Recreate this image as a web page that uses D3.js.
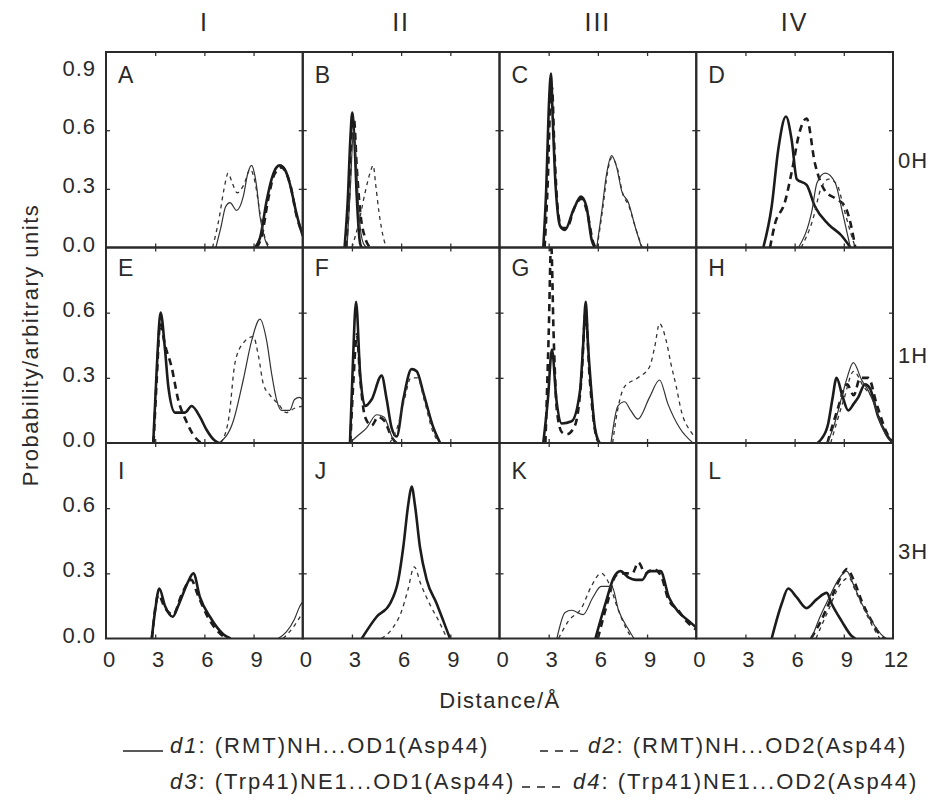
<!DOCTYPE html>
<html><head><meta charset="utf-8">
<script src="https://cdn.jsdelivr.net/npm/d3@7/dist/d3.min.js"></script>
<style>
html,body{margin:0;padding:0;background:#fff;}
svg text{font-family:"Liberation Sans",Arial,Helvetica,sans-serif;fill:#2a2a2a;}
</style></head>
<body><svg id="chart" width="952" height="802"></svg>
<script>
// ---------- data ----------
const columnLabels = ["I","II","III","IV"];
const rowLabels = ["0H","1H","3H"];
const panelLetters = ["A","B","C","D","E","F","G","H","I","J","K","L"];
const xTickValues = [0,3,6,9];
const xTickValuesLast = [0,3,6,9,12];
const yTicksRow1 = [0.0,0.3,0.6,0.9];
const yTicksOther = [0.0,0.3,0.6];
const seriesNames = ["d1","d2","d3","d4"];
const legendTexts = ["(RMT)NH...OD1(Asp44)","(RMT)NH...OD2(Asp44)","(Trp41)NE1...OD1(Asp44)","(Trp41)NE1...OD2(Asp44)"];

const A_d1=[[9.1,0],[9.4,0.05],[9.8,0.24],[10.1,0.35],[10.4,0.41],[10.6,0.42],[10.9,0.40],[11.2,0.33],[11.6,0.18],[11.85,0.10],[12,0.06]];
const A_d2=[[9.2,0],[9.5,0.06],[9.9,0.25],[10.2,0.36],[10.5,0.40],[10.7,0.41],[11.0,0.38],[11.3,0.30],[11.6,0.17],[12,0.07]];
const A_d3=[[6.7,0],[7.0,0.1],[7.3,0.21],[7.56,0.23],[7.97,0.19],[8.37,0.26],[8.65,0.38],[8.88,0.42],[9.05,0.38],[9.19,0.31],[9.39,0.16],[9.7,0.04],[9.9,0]];
const A_d4=[[6.5,0],[6.9,0.15],[7.2,0.3],[7.45,0.38],[7.7,0.33],[8.0,0.28],[8.4,0.32],[8.8,0.40],[9.1,0.33],[9.4,0.17],[9.7,0.05],[10,0]];

const B_d1=[[2.55,0],[2.75,0.25],[2.9,0.55],[3.02,0.69],[3.15,0.55],[3.3,0.25],[3.5,0.02],[3.6,0]];
const B_d2=[[2.65,0],[2.85,0.3],[3.0,0.6],[3.12,0.66],[3.3,0.4],[3.55,0.15],[3.8,0.05],[4.1,0]];
const B_d3=[[2.7,0],[2.9,0.3],[3.1,0.6],[3.25,0.45],[3.45,0.15],[3.7,0.02],[3.9,0]];
const B_d4=[[3.0,0],[3.4,0.12],[3.8,0.28],[4.1,0.38],[4.3,0.42],[4.45,0.32],[4.65,0.18],[4.95,0.04],[5.1,0]];

const C_d1=[[2.67,0],[2.85,0.3],[3.0,0.7],[3.14,0.89],[3.25,0.65],[3.38,0.38],[3.55,0.18],[3.7,0.11],[4.0,0.09],[4.5,0.19],[4.97,0.26],[5.3,0.21],[5.62,0.04],[5.8,0]];
const C_d2=[[2.75,0],[2.95,0.35],[3.1,0.75],[3.2,0.82],[3.35,0.5],[3.55,0.2],[3.8,0.1],[4.1,0.1],[4.6,0.21],[5.0,0.25],[5.35,0.18],[5.7,0.03],[5.85,0]];
const C_d3=[[5.93,0],[6.23,0.18],[6.54,0.38],[6.84,0.47],[7.15,0.41],[7.45,0.29],[7.86,0.23],[8.26,0.11],[8.67,0]];
const C_d4=[[5.95,0],[6.3,0.2],[6.6,0.39],[6.85,0.46],[7.2,0.4],[7.5,0.28],[7.9,0.21],[8.3,0.1],[8.7,0]];

const D_d1=[[4.09,0],[4.6,0.21],[5.0,0.5],[5.47,0.67],[5.82,0.55],[6.13,0.35],[6.73,0.32],[7.24,0.21],[8.05,0.12],[8.87,0.06],[9.4,0]];
const D_d2=[[4.5,0],[4.8,0.12],[5.4,0.23],[5.9,0.42],[6.24,0.57],[6.73,0.66],[7.24,0.43],[7.85,0.29],[8.5,0.25],[9.07,0.21],[9.5,0.09],[9.7,0]];
const D_d3=[[6.24,0],[7.06,0.19],[7.36,0.33],[7.87,0.38],[8.48,0.33],[8.89,0.19],[9.4,0]];
const D_d4=[[6.4,0],[7.1,0.14],[7.6,0.3],[8.1,0.35],[8.6,0.32],[9.0,0.2],[9.4,0.08],[9.7,0]];

const E_d1=[[2.88,0],[3.1,0.35],[3.33,0.60],[3.6,0.43],[3.8,0.26],[4.21,0.14],[4.82,0.14],[5.22,0.17],[5.73,0.12],[6.14,0.06],[6.65,0.01],[6.9,0]];
const E_d2=[[2.9,0],[3.1,0.3],[3.3,0.55],[3.6,0.45],[4.0,0.35],[4.4,0.2],[4.9,0.1],[5.3,0.04],[5.8,0]];
const E_d3=[[6.9,0],[7.76,0.1],[8.37,0.29],[8.88,0.47],[9.39,0.57],[9.8,0.47],[10.1,0.32],[10.4,0.2],[10.7,0.15],[11.2,0.15],[11.5,0.2],[11.8,0.21],[12,0.2]];
const E_d4=[[7.0,0],[7.5,0.12],[7.87,0.37],[8.37,0.46],[8.98,0.49],[9.3,0.4],[9.6,0.27],[10.0,0.22],[10.5,0.18],[11,0.14],[11.5,0.16],[12,0.17]];

const F_d1=[[2.88,0],[3.05,0.35],[3.25,0.65],[3.5,0.32],[3.8,0.17],[4.2,0.2],[4.81,0.31],[5.12,0.2],[5.42,0.07],[5.73,0.03],[6.13,0.2],[6.64,0.34],[6.95,0.33],[7.36,0.23],[7.97,0.07],[8.38,0]];
const F_d2=[[2.9,0],[3.1,0.3],[3.3,0.5],[3.5,0.3],[3.8,0.12],[4.2,0.08],[4.6,0.12],[5.0,0.1],[5.4,0.03],[5.7,0]];
const F_d3=[[2.85,0],[3.3,0.03],[3.9,0.07],[4.5,0.13],[4.95,0.12],[5.5,0.02],[5.8,0]];
const F_d4=[[5.3,0],[5.8,0.08],[6.2,0.2],[6.6,0.3],[7.0,0.3],[7.4,0.2],[7.9,0.06],[8.3,0]];

const G_d1=[[2.67,0],[2.95,0.2],[3.2,0.43],[3.47,0.2],[3.8,0.09],[4.4,0.1],[4.91,0.24],[5.1,0.45],[5.26,0.65],[5.4,0.45],[5.52,0.32],[5.82,0.07],[6.1,0]];
const G_d2=[[2.8,0],[3.0,0.5],[3.15,0.92],[3.3,0.5],[3.5,0.15],[3.8,0.05],[4.1,0.04],[4.6,0.08],[5.0,0.3],[5.25,0.6],[5.5,0.3],[5.9,0.03],[6.1,0]];
const G_d3=[[6.8,0],[7.22,0.17],[7.63,0.19],[8.0,0.15],[8.44,0.11],[9.15,0.21],[9.76,0.29],[10.27,0.18],[10.98,0.07],[11.8,0]];
const G_d4=[[6.9,0],[7.2,0.15],[7.63,0.26],[8.44,0.3],[9.15,0.35],[9.46,0.44],[9.76,0.55],[10.17,0.47],[10.47,0.36],[10.78,0.26],[11.08,0.15],[11.69,0.05],[12,0.02]];

const H_d1=[[7.4,0],[7.65,0.02],[8.05,0.09],[8.3,0.2],[8.56,0.3],[8.9,0.22],[9.27,0.15],[9.6,0.18],[9.88,0.21],[10.29,0.27],[10.6,0.25],[11.1,0.12],[11.6,0.04],[12,0]];
const H_d2=[[8.0,0],[8.6,0.15],[9.2,0.27],[9.6,0.22],[10.0,0.3],[10.5,0.3],[11.0,0.18],[11.6,0.05],[12,0]];
const H_d3=[[8.0,0],[8.4,0.08],[8.87,0.21],[9.2,0.3],[9.58,0.37],[10.09,0.29],[10.5,0.24],[10.9,0.17],[11.3,0.08],[11.7,0.02],[12,0]];
const H_d4=[[8.2,0],[9.0,0.2],[9.6,0.33],[10.2,0.26],[10.8,0.2],[11.5,0.05],[12,0]];

const I_d1=[[2.79,0],[3.0,0.13],[3.25,0.23],[3.6,0.15],[4.07,0.10],[4.4,0.15],[4.72,0.21],[5.0,0.26],[5.33,0.30],[5.73,0.19],[6.34,0.10],[7.15,0.02],[7.6,0]];
const I_d2=[[2.8,0],[3.2,0.2],[3.6,0.14],[4.1,0.11],[4.6,0.2],[5.2,0.27],[5.6,0.2],[6.2,0.1],[7.0,0.02],[7.4,0]];
const I_d3=[[10.5,0],[11.0,0.03],[11.5,0.09],[11.83,0.15],[12,0.17]];
const I_d4=[[10.8,0],[11.4,0.05],[12,0.12]];

const J_d1=[[3.6,0],[4.51,0.1],[5.32,0.16],[5.83,0.27],[6.13,0.42],[6.44,0.62],[6.64,0.70],[6.85,0.61],[7.15,0.42],[7.56,0.27],[8.17,0.16],[8.58,0.08],[8.98,0]];
const J_d2=[];
const J_d3=[];
const J_d4=[[4.8,0],[5.5,0.05],[6.0,0.12],[6.4,0.22],[6.8,0.33],[7.2,0.25],[7.8,0.15],[8.3,0.08],[8.8,0]];

const K_d1=[[5.85,0],[6.46,0.16],[6.97,0.28],[7.38,0.31],[7.88,0.28],[8.3,0.27],[8.7,0.27],[9.11,0.31],[9.5,0.31],[9.82,0.31],[10.33,0.19],[10.94,0.12],[11.56,0.08],[12,0.05]];
const K_d2=[[6.0,0],[6.6,0.17],[7.1,0.29],[7.6,0.3],[8.1,0.3],[8.47,0.35],[8.9,0.3],[9.4,0.32],[9.9,0.28],[10.3,0.18],[10.9,0.13],[11.4,0.08],[12,0.04]];
const K_d3=[[3.5,0],[4.0,0.12],[4.4,0.13],[5.1,0.11],[5.7,0.19],[6.2,0.24],[6.85,0.24],[7.26,0.13],[7.88,0.04],[8.2,0]];
const K_d4=[[3.6,0],[4.2,0.08],[5.0,0.14],[5.6,0.24],[6.2,0.30],[6.7,0.25],[7.2,0.14],[7.7,0.05],[8.1,0]];

const L_d1=[[4.6,0],[5.21,0.16],[5.61,0.23],[6.12,0.19],[6.73,0.14],[7.34,0.18],[7.96,0.21],[8.26,0.16],[8.87,0.08],[9.5,0.01],[9.7,0]];
const L_d2=[[7.0,0],[7.6,0.08],[8.2,0.18],[8.8,0.28],[9.2,0.32],[9.6,0.27],[10.1,0.17],[10.7,0.08],[11.3,0.01],[11.5,0]];
const L_d3=[[7.04,0],[7.55,0.10],[8.05,0.18],[8.66,0.27],[9.17,0.31],[9.58,0.25],[10.1,0.16],[10.7,0.08],[11.4,0.01],[11.6,0]];
const L_d4=[[7.3,0],[8.0,0.12],[8.8,0.25],[9.3,0.28],[9.7,0.22],[10.2,0.14],[10.8,0.05],[11.2,0]];

const panelSeries = [
  [A_d1,A_d2,A_d3,A_d4],[B_d1,B_d2,B_d3,B_d4],[C_d1,C_d2,C_d3,C_d4],[D_d1,D_d2,D_d3,D_d4],
  [E_d1,E_d2,E_d3,E_d4],[F_d1,F_d2,F_d3,F_d4],[G_d1,G_d2,G_d3,G_d4],[H_d1,H_d2,H_d3,H_d4],
  [I_d1,I_d2,I_d3,I_d4],[J_d1,J_d2,J_d3,J_d4],[K_d1,K_d2,K_d3,K_d4],[L_d1,L_d2,L_d3,L_d4]
];
const rowYMax = [1.0, 0.9, 0.9];

// ---------- layout ----------
const LEFT = 106, TOP = 52, PW = 196.75, PH = 195.5;
const styles = [
  {w:2.6, dash:null, c:"#1c1c1c"},
  {w:2.6, dash:"7,5", c:"#1c1c1c"},
  {w:1.2, dash:null, c:"#333"},
  {w:1.3, dash:"4,4", c:"#333"}
];

const svg = d3.select("#chart");
svg.append("rect").attr("width",952).attr("height",802).attr("fill","#fff");
const defs = svg.append("defs");

panelSeries.forEach((series, i) => {
  const row = Math.floor(i/4), col = i % 4;
  const x0 = LEFT + col*PW, y0 = TOP + row*PH;
  const x = d3.scaleLinear().domain([0,12]).range([x0, x0+PW]);
  const y = d3.scaleLinear().domain([0, rowYMax[row]]).range([y0+PH, y0]);
  const g = svg.append("g");
  defs.append("clipPath").attr("id","clip"+i).append("rect")
    .attr("x",x0).attr("y",y0).attr("width",PW).attr("height",PH);

  const line = d3.line().x(d=>x(d[0])).y(d=>y(d[1])).curve(d3.curveMonotoneX);
  const lg = g.append("g").attr("clip-path","url(#clip"+i+")");
  series.forEach((s, k) => {
    if (!s.length) return;
    lg.append("path").datum(s).attr("d", line)
      .attr("fill","none").attr("stroke", styles[k].c)
      .attr("stroke-width", styles[k].w)
      .attr("stroke-dasharray", styles[k].dash)
      .attr("stroke-linejoin","round");
  });

  const xt = (col===3 ? xTickValuesLast : xTickValues);
  const tickStyle = a=>{a.select(".domain").remove(); a.selectAll("line").attr("stroke","#333").attr("stroke-width",1.3);};
  g.append("g").attr("transform",`translate(0,${y0+PH})`)
    .call(d3.axisBottom(x).tickValues([3,6,9]).tickSize(-4).tickFormat("")).call(tickStyle);
  g.append("g").attr("transform",`translate(0,${y0})`)
    .call(d3.axisTop(x).tickValues([3,6,9]).tickSize(-4).tickFormat("")).call(tickStyle);
  g.append("g").attr("transform",`translate(${x0},0)`)
    .call(d3.axisLeft(y).tickValues([0.3,0.6]).tickSize(-4).tickFormat("")).call(tickStyle);
  g.append("g").attr("transform",`translate(${x0+PW},0)`)
    .call(d3.axisRight(y).tickValues([0.3,0.6]).tickSize(-4).tickFormat("")).call(tickStyle);

  g.append("rect").attr("x",x0).attr("y",y0).attr("width",PW).attr("height",PH)
    .attr("fill","none").attr("stroke","#2a2a2a").attr("stroke-width",2);

  const letterDy = [31, 28, 36][row];
  g.append("text").attr("x", x0+12).attr("y", y0+letterDy)
    .attr("font-size",23).text(panelLetters[i]);

  if (col === 0) {
    const yt = row===0 ? yTicksRow1 : yTicksOther;
    yt.forEach(v => {
      g.append("text").attr("x", x0-10).attr("y", y(v)+4)
        .attr("text-anchor","end").attr("font-size",22).attr("letter-spacing",1)
        .text(d3.format(".1f")(v));
    });
  }
  if (row === 2) {
    xt.forEach(v => {
      g.append("text").attr("x", x(v)+3).attr("y", 667)
        .attr("text-anchor","middle").attr("font-size",22).text(v);
    });
  }
});

columnLabels.forEach((t,c)=>{
  svg.append("text").attr("x", LEFT + c*PW + PW/2).attr("y", 31)
    .attr("text-anchor","middle").attr("font-size",25).attr("letter-spacing",2).text(t);
});
rowLabels.forEach((t,r)=>{
  svg.append("text").attr("x", 898).attr("y", TOP + r*PH + PH/2 + 18)
    .attr("font-size",22).attr("letter-spacing",1).text(t);
});
svg.append("text").attr("x", 500).attr("y", 708).attr("text-anchor","middle")
  .attr("font-size",22).attr("letter-spacing",1.5).text("Distance/Å");
svg.append("text").attr("transform","translate(38,345) rotate(-90)").attr("text-anchor","middle")
  .attr("font-size",22).attr("letter-spacing",1.5).text("Probability/arbitrary units");

const legendItems = [
  {k:0, lx1:123, lx2:163, tx:170, y:753},
  {k:1, lx1:540, lx2:580, tx:588, y:753},
  {k:2, lx1:null, lx2:null, tx:170, y:789},
  {k:3, lx1:522, lx2:566, tx:573, y:789}
];
legendItems.forEach(it=>{
  const st = styles[it.k];
  if (it.lx1 !== null) {
    svg.append("line").attr("x1",it.lx1).attr("x2",it.lx2).attr("y1",it.y-2).attr("y2",it.y-2)
      .attr("stroke","#222").attr("stroke-width",1.6).attr("stroke-dasharray", st.dash ? "8,7" : null);
  }
  const t = svg.append("text").attr("x",it.tx).attr("y",it.y).attr("font-size",22).attr("letter-spacing",2);
  t.append("tspan").attr("font-style","italic").text(seriesNames[it.k]);
  t.append("tspan").text(": " + legendTexts[it.k]);
});
</script></body></html>
